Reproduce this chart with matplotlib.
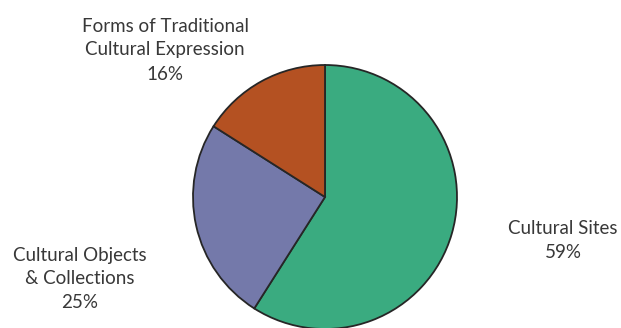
import matplotlib
matplotlib.use("Agg")
import matplotlib.pyplot as plt

categories = ["Cultural Sites", "Cultural Objects\n& Collections", "Forms of Traditional\nCultural Expression"]
values = [59, 25, 16]
colors = ["#3aab80", "#7479aa", "#b45122"]

W, H = 621, 328
fig = plt.figure(figsize=(W / 100, H / 100), dpi=100)
fig.patch.set_facecolor("white")

cx, cy, r = 325, 197, 132
ax = fig.add_axes([(cx - r) / W, (H - cy - r) / H, 2 * r / W, 2 * r / H])
ax.pie(values, colors=colors, startangle=90, counterclock=False,
       wedgeprops=dict(edgecolor="#262626", linewidth=1.3))
ax.set_xlim(-1, 1)
ax.set_ylim(-1, 1)
ax.set_aspect("auto")
ax.axis("off")
for p in ax.patches:
    p.set_clip_on(False)

label_pos = [(563, 240), (80, 279), (165, 50)]
for cat, v, (x, y) in zip(categories, values, label_pos):
    fig.text(x / W, 1 - y / H, f"{cat}\n{v}%", ha="center", va="center",
             fontsize=13.5, color="#383838", family="Lato", linespacing=1.5)

fig.savefig("out.png", dpi=100, facecolor="white")
